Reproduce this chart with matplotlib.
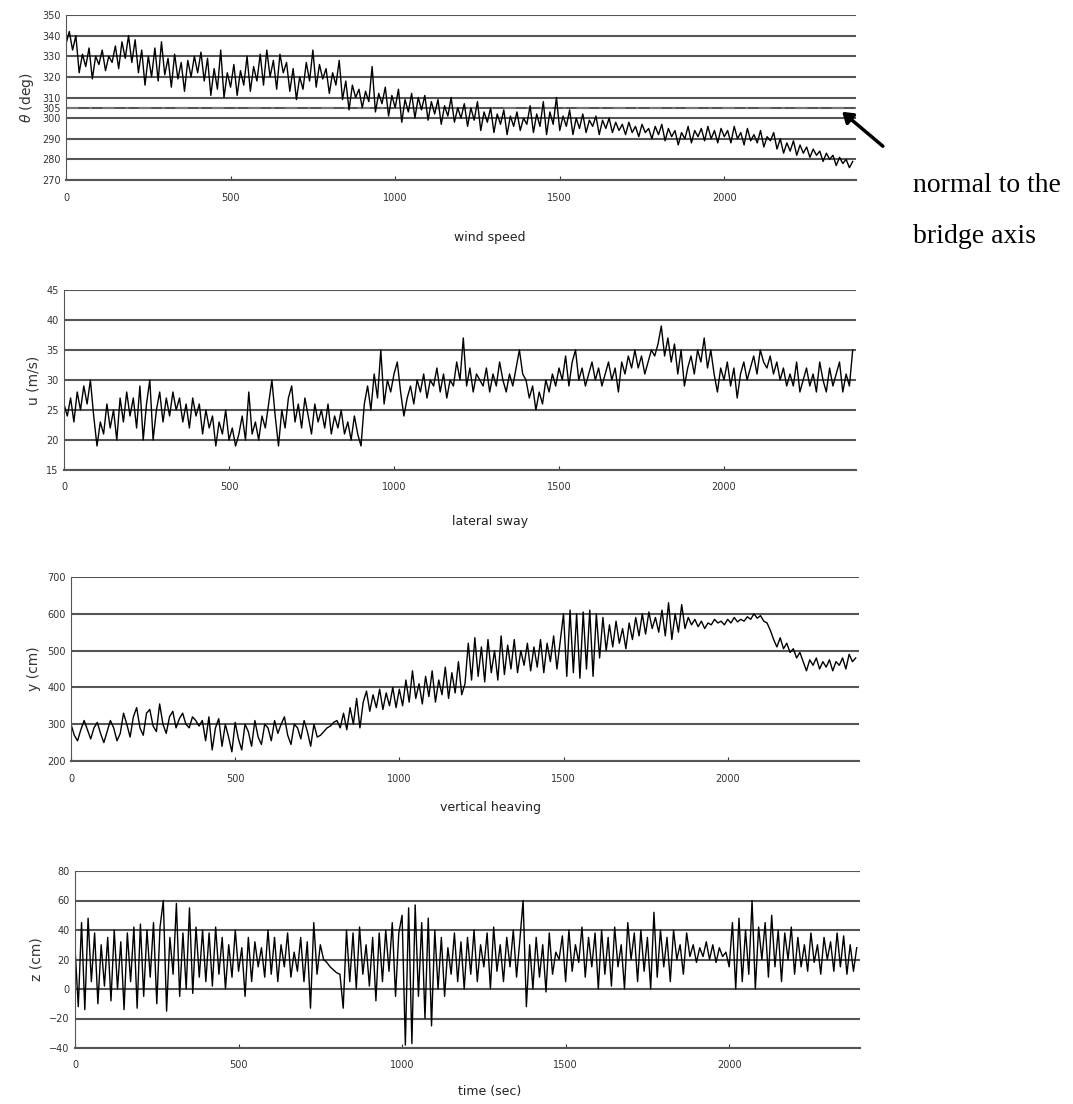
import numpy as np
import matplotlib
matplotlib.use("Agg")
import matplotlib.pyplot as plt

# time axis, one reading every 10 s
t = np.arange(0, 2400, 10)

# wind direction (deg)
theta = [336, 342, 333, 340, 322, 331, 325, 334, 319, 330, 326, 333, 323, 330, 327, 335, 324, 337, 329, 340,
         327, 338, 322, 333, 316, 330, 320, 334, 318, 337, 321, 329, 315, 331, 319, 327, 313, 328, 320, 330,
         322, 332, 318, 329, 311, 324, 314, 333, 310, 322, 315, 326, 311, 323, 316, 330, 313, 325, 318, 331,
         316, 333, 320, 328, 314, 331, 322, 327, 313, 324, 309, 320, 314, 327, 318, 333, 315, 326, 319, 324,
         312, 322, 316, 328, 309, 318, 304, 316, 310, 314, 305, 313, 308, 325, 303, 312, 307, 315, 301, 311,
         305, 314, 298, 309, 303, 312, 300, 310, 304, 311, 299, 308, 302, 309, 297, 306, 301, 310, 298, 305,
         300, 307, 296, 305, 299, 308, 294, 303, 298, 305, 293, 302, 297, 304, 292, 301, 296, 303, 294, 300,
         297, 306, 293, 302, 296, 308, 292, 303, 297, 310, 294, 301, 296, 304, 292, 300, 295, 302, 293, 299,
         296, 301, 292, 299, 295, 300, 293, 298, 294, 297, 292, 298, 293, 296, 291, 297, 293, 295, 290, 296,
         292, 297, 289, 295, 291, 294, 287, 293, 290, 296, 288, 294, 291, 295, 289, 296, 290, 294, 288, 295,
         291, 294, 288, 296, 290, 293, 287, 295, 289, 292, 288, 294, 286, 291, 289, 293, 285, 290, 283, 288,
         284, 289, 282, 287, 283, 286, 281, 285, 282, 284, 279, 283, 280, 282, 277, 281, 278, 280, 276, 279]

# wind speed (m/s)
u = [26, 24, 27, 23, 28, 25, 29, 26, 30, 24, 19, 23, 21, 26, 22, 25, 20, 27, 23, 28,
     24, 27, 22, 29, 20, 26, 30, 20, 25, 28, 23, 27, 24, 28, 25, 27, 23, 26, 22, 27,
     24, 26, 21, 25, 22, 24, 19, 23, 21, 25, 20, 22, 19, 21, 24, 20, 28, 21, 23, 20,
     24, 22, 26, 30, 24, 19, 25, 22, 27, 29, 23, 26, 22, 27, 24, 21, 26, 23, 25, 22,
     26, 21, 24, 22, 25, 21, 23, 20, 24, 21, 19, 26, 29, 25, 31, 27, 35, 26, 30, 28,
     31, 33, 28, 24, 27, 29, 26, 30, 28, 31, 27, 30, 29, 32, 28, 31, 27, 30, 29, 33,
     30, 37, 29, 32, 28, 31, 30, 29, 32, 28, 31, 29, 33, 30, 28, 31, 29, 32, 35, 31,
     30, 27, 29, 25, 28, 26, 30, 28, 31, 29, 32, 30, 34, 29, 33, 35, 30, 32, 29, 31,
     33, 30, 32, 29, 31, 33, 30, 32, 28, 33, 31, 34, 32, 35, 32, 34, 31, 33, 35, 34,
     36, 39, 34, 37, 33, 36, 31, 35, 29, 32, 34, 31, 35, 33, 37, 32, 35, 31, 28, 32,
     30, 33, 29, 32, 27, 31, 33, 30, 32, 34, 31, 35, 33, 32, 34, 31, 33, 30, 32, 29,
     31, 29, 33, 28, 30, 32, 29, 31, 28, 33, 30, 28, 32, 29, 31, 33, 28, 31, 29, 35]

# lateral sway (cm)
y = [300, 270, 255, 285, 310, 285, 260, 290, 305, 275, 250, 280, 310, 290, 255, 275, 330, 300, 265, 320,
     345, 290, 270, 330, 340, 295, 280, 355, 300, 275, 320, 335, 290, 315, 330, 300, 290, 320, 310, 295,
     310, 255, 320, 230, 290, 315, 240, 300, 265, 225, 305, 260, 230, 300, 280, 240, 310, 265, 245, 300,
     290, 255, 310, 275, 300, 320, 270, 245, 300, 290, 260, 310, 280, 240, 300, 265, 270, 280, 290, 295,
     305, 310, 290, 330, 285, 345, 300, 370, 290, 360, 390, 335, 380, 345, 395, 340, 385, 350, 400, 345,
     395, 350, 420, 360, 445, 370, 410, 355, 430, 375, 445, 360, 420, 380, 455, 370, 440, 385, 470, 380,
     410, 520, 420, 535, 430, 510, 415, 530, 440, 500, 420, 540, 435, 515, 450, 530, 440, 500, 460, 520,
     445, 510, 455, 530, 440, 520, 470, 540, 450, 525, 600, 430, 610, 440, 600, 425, 605, 450, 610, 430,
     600, 480, 590, 500, 570, 510, 580, 520, 560, 505, 575, 530, 590, 540, 600, 545, 605, 560, 590, 550,
     610, 540, 630, 530, 600, 550, 625, 560, 590, 570, 585, 565, 580, 560, 575, 570, 585, 575, 580, 570,
     585, 575, 590, 578, 585, 580, 592, 585, 600, 588, 595, 580, 575, 555, 530, 510, 535, 505, 520, 495,
     505, 480, 495, 470, 445, 475, 460, 480, 450, 470, 455, 475, 445, 470, 460, 480, 450, 490, 470, 480]

# vertical heaving (cm)
z = [28, -12, 45, -14, 48, 5, 38, -10, 30, 2, 35, -8, 40, 0, 32, -14, 38, 5, 42, -13,
     44, -5, 40, 8, 45, -10, 42, 60, -15, 35, 10, 58, -5, 38, 0, 55, -3, 42, 8, 40,
     5, 38, 2, 42, 10, 35, 0, 30, 8, 40, 12, 28, -5, 35, 5, 32, 15, 28, 8, 40,
     10, 35, 5, 30, 15, 38, 8, 25, 12, 35, 5, 32, -13, 45, 10, 30, 20, 18, 15, 13,
     11, 10, -13, 40, 5, 38, 0, 42, 10, 30, 2, 35, -8, 38, 5, 40, 12, 45, -5, 38,
     50, -38, 55, -37, 57, -5, 45, -20, 48, -25, 40, 0, 35, -5, 28, 10, 38, 5, 32, 0,
     35, 10, 40, 5, 30, 15, 38, 0, 42, 12, 30, 5, 35, 15, 40, 8, 33, 60, -12, 30,
     0, 35, 8, 30, -2, 38, 10, 25, 20, 36, 5, 40, 12, 30, 18, 42, 8, 35, 15, 38,
     0, 40, 10, 35, 2, 42, 15, 30, 0, 45, 20, 38, 5, 40, 12, 35, 0, 52, 8, 40,
     15, 35, 5, 40, 20, 30, 10, 38, 22, 30, 18, 28, 22, 32, 20, 30, 18, 28, 22, 25,
     15, 45, 0, 48, 5, 40, 10, 60, 0, 42, 20, 45, 8, 50, 15, 40, 5, 38, 20, 42,
     10, 35, 15, 30, 12, 38, 18, 30, 10, 35, 20, 32, 12, 38, 15, 36, 10, 30, 12, 28]

xticks = [0, 500, 1000, 1500, 2000]
normal_dir = 305

W, H = 1073, 1104
fig = plt.figure(figsize=(W / 100, H / 100), dpi=100)

def box(l, r, top, bot):
    return [l / W, 1 - bot / H, (r - l) / W, (bot - top) / H]

panels = [
    (box(66, 856, 15, 180), theta, (270, 350), list(range(270, 351, 10)) + [305], r"$\theta$ (deg)", "wind speed", 237),
    (box(64, 856, 290, 470), u, (15, 45), list(range(15, 46, 5)), "u (m/s)", "lateral sway", 522),
    (box(71, 859, 577, 761), y, (200, 700), list(range(200, 701, 100)), "y (cm)", "vertical heaving", 808),
    (box(75, 860, 871, 1048), z, (-40, 80), list(range(-40, 81, 20)), "z (cm)", "time (sec)", 1092),
]

axes = []
for rect, data, ylim, yt, ylab, xlab, xlab_y in panels:
    ax = fig.add_axes(rect)
    ax.plot(t, data, color="black", lw=1.0)
    ax.set_xlim(0, 2400)
    ax.set_ylim(*ylim)
    ax.set_yticks(yt)
    ax.set_xticks(xticks)
    ax.grid(axis="y", color="#555555", lw=1.5)
    ax.set_axisbelow(True)
    for s in ["top", "right"]:
        ax.spines[s].set_visible(False)
    ax.spines["left"].set_color("#555555")
    ax.spines["bottom"].set_color("#555555")
    ax.spines["bottom"].set_linewidth(1.5)
    ax.tick_params(axis="x", direction="in", length=3, labelsize=7, colors="#333333", pad=9)
    ax.tick_params(axis="y", length=0, labelsize=7, colors="#333333", pad=4)
    ax.set_ylabel(ylab, fontsize=10, color="#333333", labelpad=4)
    fig.text(490 / W, 1 - xlab_y / H, xlab, ha="center", va="center", fontsize=9, color="#222222")
    axes.append(ax)

ax1 = axes[0]
# the 305 line must not look like another grid line
ax1.axhline(normal_dir, color="#777777", lw=1.5, linestyle=(0, (6, 5, 1.5, 5)), zorder=1.5)

fig.text(913 / W, 1 - 185 / H, "normal to the", fontsize=20, family="Liberation Serif", va="center")
fig.text(913 / W, 1 - 236 / H, "bridge axis", fontsize=20, family="Liberation Serif", va="center")
fig.patches.append(matplotlib.patches.FancyArrowPatch(
    (885 / W, 1 - 148 / H), (840 / W, 1 - 110 / H), transform=fig.transFigure,
    arrowstyle="-|>,head_length=6,head_width=4", color="black", lw=2.5))

fig.savefig("out.png", dpi=100)
